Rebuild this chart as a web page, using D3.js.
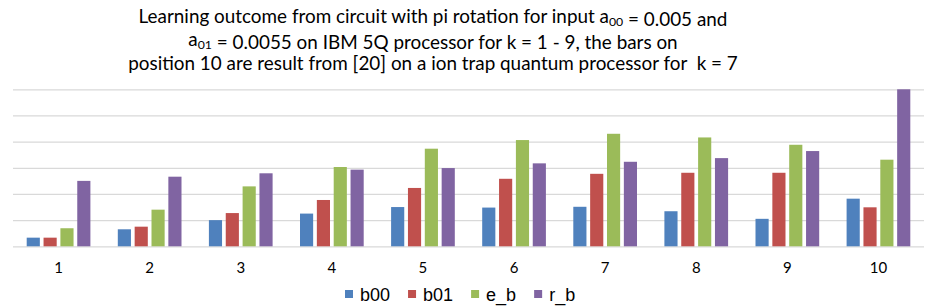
<!DOCTYPE html>
<html>
<head>
<meta charset="utf-8">
<script src="https://cdn.jsdelivr.net/npm/d3@7"></script>
<style>
  html, body { margin: 0; padding: 0; background: #fff; }
  svg { display: block; }
  .title { font-family: Lato, "Open Sans", sans-serif; font-size: 20px; fill: #000; white-space: pre; }
  .cat text { font-family: Lato, "Open Sans", sans-serif; font-size: 15px; fill: #000; }
  .legend text { font-family: "Liberation Sans", Arial, sans-serif; font-size: 18px; fill: #000; }
</style>
</head>
<body>
<div id="chart"></div>
<script>
// categories (k) and the four series
const categories = ["1", "2", "3", "4", "5", "6", "7", "8", "9", "10"];
const seriesNames = ["b00", "b01", "e_b", "r_b"];
const b00 = [0.033, 0.065, 0.100, 0.125, 0.150, 0.148, 0.151, 0.134, 0.105, 0.182];
const b01 = [0.033, 0.075, 0.127, 0.177, 0.223, 0.258, 0.277, 0.281, 0.281, 0.149];
const e_b = [0.069, 0.140, 0.229, 0.303, 0.373, 0.406, 0.430, 0.416, 0.388, 0.331];
const r_b = [0.250, 0.266, 0.279, 0.293, 0.299, 0.317, 0.323, 0.337, 0.364, 0.600];
const yTicks = [0, 0.1, 0.2, 0.3, 0.4, 0.5, 0.6];
const colors = ["#4F81BD", "#C0504D", "#9BBB59", "#8064A2"];

// title lines, each a list of [text, isSubscript]
const titleLines = [
  [["Learning outcome from circuit with pi rotation for input a", false], ["00", true], [" = 0.005 and", false]],
  [["a", false], ["01", true], [" = 0.0055 on IBM 5Q processor for k = 1 - 9, the bars on", false]],
  [["position 10 are result from [20] on a ion trap quantum processor for  k = 7", false]]
];

const width = 931, height = 306;
const plot = { left: 13, right: 924, top: 89.3, bottom: 246.3 };

const svg = d3.select("#chart").append("svg")
  .attr("width", width)
  .attr("height", height);

/* title */
const title = svg.append("text")
  .attr("class", "title")
  .attr("text-anchor", "middle");
const titleRows = titleLines.map((parts, i) => {
  const line = title.append("tspan")
    .attr("x", 433)
    .attr("y", 22.5 + i * 23.5);
  parts.forEach(([t, sub]) => {
    if (sub) {
      line.append("tspan").attr("class", "sub").attr("dy", 3).text(t);
      line.append("tspan").attr("dy", -3).text("");
    } else {
      line.append("tspan").text(t);
    }
  });
  return line;
});
// fit the font so the first line spans about as wide as in the reference
const firstWidth = titleRows[0].node().getComputedTextLength();
const titleSize = 20 * 597 / firstWidth;
title.style("font-size", titleSize + "px");
title.selectAll(".sub").style("font-size", (titleSize * 0.65) + "px");

/* scales */
const x0 = d3.scaleBand()
  .domain(categories)
  .range([plot.left, plot.right])
  .padding(0);

const groupPad = 13.7;
const x1 = d3.scaleBand()
  .domain(seriesNames)
  .range([groupPad, x0.bandwidth() - groupPad])
  .paddingInner(0.22)
  .paddingOuter(0);

const y = d3.scaleLinear()
  .domain([0, 0.6])
  .range([plot.bottom, plot.top]);

/* gridlines */
svg.append("g")
  .attr("class", "grid")
  .attr("transform", `translate(${plot.left},0)`)
  .call(d3.axisLeft(y).tickValues(yTicks).tickSize(-(plot.right - plot.left)).tickFormat(""))
  .call(g => g.select(".domain").remove())
  .call(g => g.selectAll("line").attr("stroke", "#d9d9d9").attr("stroke-width", 1.3));

/* bars */
const series = [b00, b01, e_b, r_b];
const groups = svg.append("g").attr("class", "bars")
  .selectAll("g")
  .data(categories)
  .join("g")
  .attr("transform", d => `translate(${x0(d)},0)`);

groups.selectAll("rect")
  .data((d, i) => seriesNames.map((s, j) => ({ s, j, v: series[j][i] })))
  .join("rect")
  .attr("x", d => x1(d.s))
  .attr("width", x1.bandwidth())
  .attr("y", d => y(d.v))
  .attr("height", d => y(0) - y(d.v))
  .attr("fill", d => colors[d.j]);

/* category axis */
svg.append("g")
  .attr("class", "cat")
  .attr("transform", `translate(0,${plot.bottom})`)
  .call(d3.axisBottom(x0).tickSize(0).tickPadding(16))
  .call(g => g.select(".domain").remove());

/* legend */
const legend = svg.append("g").attr("class", "legend");
let lx = 345;
seriesNames.forEach((name, j) => {
  const item = legend.append("g").attr("transform", `translate(${lx},0)`);
  item.append("rect")
    .attr("x", 0).attr("y", 290)
    .attr("width", 8).attr("height", 8)
    .attr("fill", colors[j]);
  const t = item.append("text")
    .attr("x", 15).attr("y", 300.5)
    .text(name);
  lx += 15 + t.node().getComputedTextLength() + 18;
});
</script>
</body>
</html>
